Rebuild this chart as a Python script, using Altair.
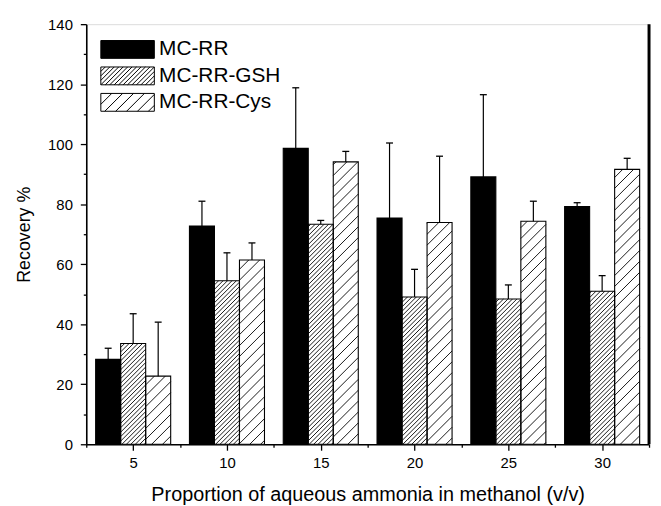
import math
import altair as alt
import pandas as pd

# ---------------- data ----------------
groups = [5, 10, 15, 20, 25, 30]
series = ["MC-RR", "MC-RR-GSH", "MC-RR-Cys"]
mc_rr = [28.3, 72.7, 98.6, 75.4, 89.1, 79.2]
mc_rr_sd = [3.7, 8.3, 20.2, 25.0, 27.4, 1.3]
mc_rr_gsh = [33.6, 54.5, 73.3, 49.1, 48.4, 51.0]
mc_rr_gsh_sd = [9.9, 9.3, 1.3, 9.2, 4.7, 5.2]
mc_rr_cys = [22.7, 61.4, 94.1, 73.9, 74.3, 91.6]
mc_rr_cys_sd = [18.0, 5.7, 3.5, 22.1, 6.7, 3.7]

x_ticks = [2.5 + 2.5 * i for i in range(13)]
y_ticks = [10 * i for i in range(15)]

# ---------------- styling / layout ----------------
FONT = "Liberation Sans"
W, H = 568, 424
X_DOM = [2.5, 32.5]
Y_DOM = [0, 140]
BAR_W = 4 / 3
offsets = [-4 / 3, 0.0, 4 / 3]
fills = ["black", "white", "white"]
hatch_px = [None, 4.5, 11.0]

values = [mc_rr, mc_rr_gsh, mc_rr_cys]
sds = [mc_rr_sd, mc_rr_gsh_sd, mc_rr_cys_sd]

rows = []
for si, name in enumerate(series):
    for g, v, sd in zip(groups, values[si], sds[si]):
        c = g + offsets[si]
        rows.append(dict(series=name, sidx=si, xc=c, x0=c - BAR_W / 2,
                         x1=c + BAR_W / 2, value=v, top=v + sd))
bars = pd.DataFrame(rows)

# hatch segments, computed from the bars in data units (45 degrees on screen)
sx = W / (X_DOM[1] - X_DOM[0])
sy = H / (Y_DOM[1] - Y_DOM[0])
segs = []
for r in rows:
    s = hatch_px[r["sidx"]]
    if not s:
        continue
    X0 = (r["x0"] - X_DOM[0]) * sx
    X1 = (r["x1"] - X_DOM[0]) * sx
    Hh = r["value"] * sy
    for k in range(math.floor((X0 - Hh) / s), math.ceil(X1 / s) + 1):
        b = k * s
        xa = max(X0, b)
        xb = min(X1, b + Hh)
        if xb - xa > 0.4:
            segs.append(dict(x=xa / sx + X_DOM[0], y=(xa - b) / sy,
                             x2=xb / sx + X_DOM[0], y2=(xb - b) / sy))
segs = pd.DataFrame(segs)

x_scale = alt.Scale(domain=X_DOM, nice=False, zero=False)
y_scale = alt.Scale(domain=Y_DOM, nice=False)

x_axis = alt.Axis(
    values=x_ticks,
    labelExpr="datum.value % 5 == 0 ? datum.label : ''",
    tickSize={"condition": {"test": "datum.value % 5 != 0", "value": 3}, "value": 6},
    grid=False, domainColor="black", domainWidth=1.6, tickColor="black", tickWidth=1.3,
    labelFont=FONT, labelFontSize=15, labelColor="black", labelPadding=5,
    labelOverlap=False, labelFlush=False,
    titleFont=FONT, titleFontSize=20, titleFontWeight="normal", titleColor="black",
    titlePadding=15,
)
y_axis = alt.Axis(
    values=y_ticks,
    labelExpr="datum.value % 20 == 0 ? datum.label : ''",
    tickSize={"condition": {"test": "datum.value % 20 != 0", "value": 3}, "value": 6},
    grid=False, domainColor="black", domainWidth=1.6, tickColor="black", tickWidth=1.3,
    labelFont=FONT, labelFontSize=15, labelColor="black", labelPadding=8,
    labelOverlap=False, labelFlush=False,
    titleFont=FONT, titleFontSize=18, titleFontWeight="normal", titleColor="black",
    titlePadding=14,
)
X_TITLE = "Proportion of aqueous ammonia in methanol (v/v)"
Y_TITLE = "Recovery %"


def X(field):
    return alt.X(field, type="quantitative", scale=x_scale, axis=x_axis, title=X_TITLE)


def Y(field):
    return alt.Y(field, type="quantitative", scale=y_scale, axis=y_axis, title=Y_TITLE)


fill_enc = alt.Fill("series:N", scale=alt.Scale(domain=series, range=fills), legend=None)

bar_fill = alt.Chart(bars).mark_rect(strokeWidth=0).encode(
    x=X("x0"), x2="x1", y=Y("value"), y2=alt.datum(0), fill=fill_enc)

hatch = alt.Chart(segs).mark_rule(color="black", strokeWidth=0.9).encode(
    x=X("x"), x2="x2", y=Y("y"), y2="y2")

bar_outline = alt.Chart(bars).mark_rect(fillOpacity=0, stroke="black", strokeWidth=1.1).encode(
    x=X("x0"), x2="x1", y=Y("value"), y2=alt.datum(0))

err_rule = alt.Chart(bars).mark_rule(color="black", strokeWidth=1.2).encode(
    x=X("xc"), y=Y("value"), y2="top")
err_cap = alt.Chart(bars).mark_tick(orient="horizontal", size=7, thickness=1.3,
                                    color="black", opacity=1).encode(
    x=X("xc"), y=Y("top"))

right_edge = alt.Chart(pd.DataFrame({"a": [0]})).mark_rule(color="black", strokeWidth=3).encode(
    x=alt.value(W), y=alt.value(0), y2=alt.value(H))

# ---------------- legend (drawn inside the plot, top-left) ----------------
SW_HALF_W, SW_HALF_H = 27, 9


def swatch_path(spacing):
    u = 1 / SW_HALF_W
    hh = SW_HALF_H * u
    parts = [f"M-1,{-hh:.4f}H1V{hh:.4f}H-1Z"]
    if spacing:
        s = spacing * u
        b = -1 - 2 * hh
        while b < 1:
            xa = max(-1.0, b)
            xb = min(1.0, b + 2 * hh)
            if xb - xa > 0.01:
                parts.append(f"M{xa:.4f},{hh - (xa - b):.4f}L{xb:.4f},{hh - (xb - b):.4f}")
            b += s
    return "".join(parts)


legend_layers = []
for i, name in enumerate(series):
    d = pd.DataFrame({"series": [name]})
    yy = 25.5 + 26.7 * i
    legend_layers.append(
        alt.Chart(d).mark_point(shape=swatch_path(hatch_px[i]), size=(2 * SW_HALF_W) ** 2,
                                filled=True, fill=fills[i], stroke="black", strokeWidth=1,
                                opacity=1).encode(x=alt.value(41.7), y=alt.value(yy)))
    legend_layers.append(
        alt.Chart(d).mark_text(align="left", baseline="middle", font=FONT, fontSize=21,
                               color="black").encode(
            x=alt.value(73.5), y=alt.value(yy), text="series:N"))

chart = alt.layer(bar_fill, hatch, bar_outline, err_rule, err_cap, right_edge,
                  *legend_layers).properties(
    width=W, height=H,
    padding={"left": 79, "top": 14, "right": 4, "bottom": 62},
    autosize=alt.AutoSizeParams(type="none"),
).configure_view(stroke="black", strokeWidth=2).configure(background="white")

chart.save("out.html", embed_options={"renderer": "svg", "actions": False})
